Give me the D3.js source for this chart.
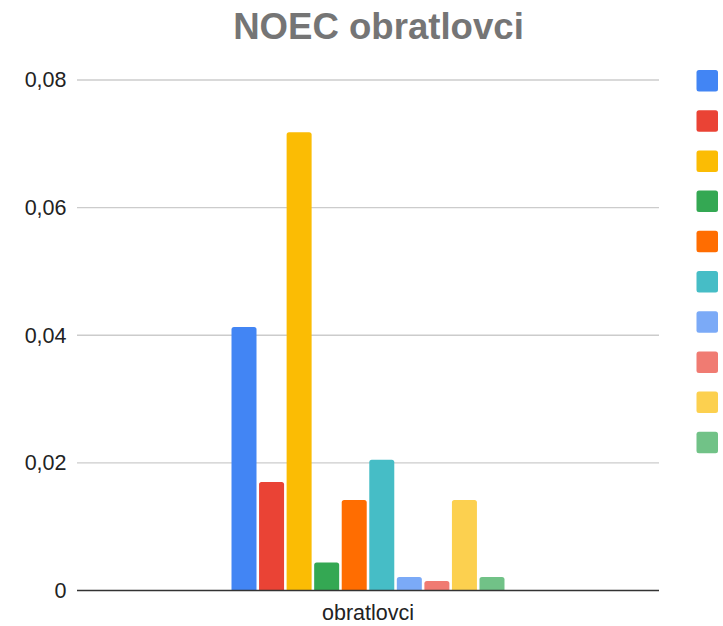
<!DOCTYPE html>
<html>
<head>
<meta charset="utf-8">
<script src="https://cdn.jsdelivr.net/npm/d3@7/dist/d3.min.js"></script>
<style>
  html, body { margin: 0; padding: 0; background: #fff; }
  svg { display: block; font-family: "Liberation Sans", Arial, sans-serif; }
</style>
</head>
<body>
<svg id="chart" width="723" height="626"></svg>
<script>
// Chart data
const title = "NOEC obratlovci";
const categories = ["obratlovci"];
const seriesNames = ["S1", "S2", "S3", "S4", "S5", "S6", "S7", "S8", "S9", "S10"];
const seriesValues = [0.0413, 0.0170, 0.0718, 0.0044, 0.0142, 0.0205, 0.0021, 0.0015, 0.0142, 0.0021];
const yTicks = [0, 0.02, 0.04, 0.06, 0.08];
const yTickLabels = ["0", "0,02", "0,04", "0,06", "0,08"];
const colors = ["#4285F4", "#EA4335", "#FBBC04", "#34A853", "#FF6D01",
                "#46BDC6", "#7BAAF7", "#F07B72", "#FCD04F", "#71C287"];

const svg = d3.select("#chart");
const plot = { left: 77, right: 659, top: 80, bottom: 590.5 };

const y = d3.scaleLinear().domain([0, 0.08]).range([plot.bottom, plot.top]);
const x0 = d3.scaleBand().domain(categories).range([plot.left, plot.right])
  .paddingInner(0).paddingOuter(0.566);
const x1 = d3.scaleBand().domain(seriesNames).range([0, x0.bandwidth()])
  .paddingInner(0.0926).paddingOuter(0);
const color = d3.scaleOrdinal().domain(seriesNames).range(colors);

// Title
svg.append("text")
  .attr("x", 378.5).attr("y", 39)
  .attr("text-anchor", "middle")
  .attr("font-size", 36.6).attr("font-weight", "bold")
  .attr("fill", "#757575")
  .text(title);

// Gridlines
svg.append("g")
  .selectAll("line")
  .data(yTicks.filter(d => d !== 0))
  .join("line")
  .attr("x1", plot.left).attr("x2", plot.right)
  .attr("y1", d => y(d)).attr("y2", d => y(d))
  .attr("stroke", "#cccccc").attr("stroke-width", 1.3);

// Y axis labels
const yAxis = d3.axisLeft(y).tickValues(yTicks)
  .tickFormat((d, i) => yTickLabels[i]).tickSize(0).tickPadding(10.5);
const yg = svg.append("g").attr("transform", `translate(${plot.left},0)`).call(yAxis);
yg.select(".domain").remove();
yg.selectAll("text").attr("font-size", 21.5).attr("fill", "#222")
  .attr("font-family", "'Liberation Sans', Arial, sans-serif");

// Bars
const groups = svg.append("g")
  .selectAll("g")
  .data(categories)
  .join("g")
  .attr("transform", d => `translate(${x0(d)},0)`);

groups.selectAll("path")
  .data(() => seriesNames.map((s, i) => ({ s, v: seriesValues[i] })))
  .join("path")
  .attr("fill", d => color(d.s))
  .attr("d", d => {
    const xl = x1(d.s), w = x1.bandwidth();
    const yt = y(d.v), yb = y(0);
    const r = Math.min(2.5, (yb - yt) / 2);
    return `M${xl},${yb} V${yt + r} Q${xl},${yt} ${xl + r},${yt} H${xl + w - r} Q${xl + w},${yt} ${xl + w},${yt + r} V${yb} Z`;
  });

// Baseline
svg.append("line")
  .attr("x1", plot.left).attr("x2", plot.right)
  .attr("y1", y(0)).attr("y2", y(0))
  .attr("stroke", "#333").attr("stroke-width", 1.4);

// X axis category label
const xAxis = d3.axisBottom(x0).tickSize(0).tickPadding(0);
const xg = svg.append("g").attr("transform", `translate(0,${y(0)})`).call(xAxis);
xg.select(".domain").remove();
xg.selectAll("text")
  .attr("dy", null).attr("y", 29.5)
  .attr("font-size", 21.5).attr("fill", "#222")
  .attr("font-family", "'Liberation Sans', Arial, sans-serif");

// Legend swatches
svg.append("g")
  .selectAll("rect")
  .data(seriesNames)
  .join("rect")
  .attr("x", 696.5)
  .attr("y", (d, i) => 70 + i * 40.2)
  .attr("width", 21.5).attr("height", 21.5)
  .attr("rx", 2.5)
  .attr("fill", d => color(d));
</script>
</body>
</html>
